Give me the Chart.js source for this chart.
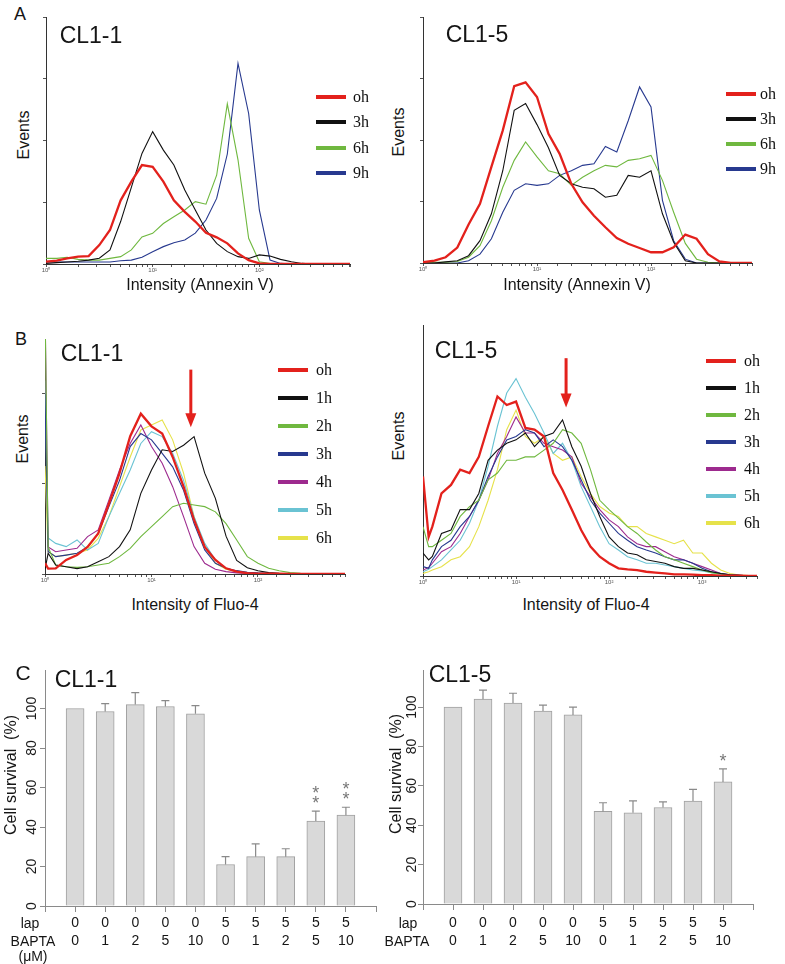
<!DOCTYPE html>
<html>
<head>
<meta charset="utf-8">
<title>Annexin V / Fluo-4 / cell survival</title>
<script src="https://cdn.jsdelivr.net/npm/chart.js@4.4.1/dist/chart.umd.min.js"></script>
<style>
  html, body { margin: 0; padding: 0; background: #fff; }
  #fig { position: relative; width: 785px; height: 964px; overflow: hidden;
         font-family: "Liberation Sans", Arial, sans-serif; color: #151515; }
  #fig canvas { position: absolute; z-index: 1; }
  .t { position: absolute; white-space: pre; line-height: 1; transform: translate(-50%, -50%); z-index: 2; }
  .v { transform: translate(-50%, -50%) rotate(-90deg); }
  .cl { font-size: 23px; }
  .ax { font-size: 16px; }
  .cat { font-size: 14px; }
  .sw { position: absolute; width: 30px; height: 4px; z-index: 2; }
  .leg { position: absolute; z-index: 2; line-height: 1; transform: translateY(-50%);
         font-family: "Liberation Serif", "Times New Roman", serif; font-size: 16px; color: #111; }
</style>
</head>
<body>
<div id="fig">
  <div class="t" style="left:20px;top:14px;font-size:18px">A</div>
  <div class="t cl" style="left:91px;top:35px">CL1-1</div>
  <div class="t cl" style="left:477px;top:34px">CL1-5</div>
  <div class="t ax v" style="left:24px;top:135px">Events</div>
  <div class="t ax v" style="left:399px;top:132px">Events</div>
  <div class="t ax" style="left:200px;top:285px">Intensity (Annexin V)</div>
  <div class="t ax" style="left:577px;top:285px">Intensity (Annexin V)</div>

  <div class="t" style="left:21px;top:339px;font-size:18px">B</div>
  <div class="t cl" style="left:92px;top:353px">CL1-1</div>
  <div class="t cl" style="left:466px;top:350px">CL1-5</div>
  <div class="t ax v" style="left:23px;top:439px">Events</div>
  <div class="t ax v" style="left:399px;top:436px">Events</div>
  <div class="t ax" style="left:195px;top:605px">Intensity of Fluo-4</div>
  <div class="t ax" style="left:586px;top:605px">Intensity of Fluo-4</div>

  <div class="t" style="left:23px;top:672px;font-size:21px">C</div>
  <div class="t cl" style="left:86px;top:679px">CL1-1</div>
  <div class="t cl" style="left:460px;top:674px">CL1-5</div>
  <div class="t ax v" style="left:11px;top:775px">Cell survival  (%)</div>
  <div class="t ax v" style="left:396px;top:774px">Cell survival  (%)</div>
  <div class="t cat" style="left:30px;top:923px">lap</div>
  <div class="t cat" style="left:33px;top:941px">BAPTA</div>
  <div class="t cat" style="left:33px;top:956px">(μM)</div>
  <div class="t cat" style="left:408px;top:923px">lap</div>
  <div class="t cat" style="left:407px;top:941px">BAPTA</div>
</div>

<script>
  // ---------- data ----------
  // A: Annexin V histograms, intensity bins (log spaced)
  const annexGrid = [1, 1.26, 1.58, 2, 2.51, 3.16, 3.98, 5.01, 6.31, 7.94, 10, 12.6, 15.8, 20, 25.1, 31.6, 39.8, 50.1, 63.1, 79.4, 100, 126, 158, 200, 251, 316, 398, 501, 631, 794];
  const annexL0h = [1.2, 1.7, 2.9, 3.8, 4.1, 9.8, 17.6, 33, 42.7, 51.3, 50.4, 42.7, 33, 27, 22, 16.2, 13.8, 10.7, 5.5, 2, 0.3, 0, 0, 0, 0, 0, 0, 0, 0, 0];
  const annexL3h = [0.3, 0.7, 1, 1.4, 2, 3, 7.3, 22, 39.7, 57.3, 68.6, 59, 51.3, 38.3, 28, 17.6, 10.7, 6.4, 3.8, 2.9, 4.7, 4.1, 2.4, 1.2, 0.3, 0, 0, 0, 0, 0];
  const annexL6h = [2.9, 2.9, 3.5, 2.4, 2, 2, 2.9, 3.8, 7.3, 14, 15.9, 21, 24.5, 28, 32.3, 31, 46, 83, 54, 13.3, 1.2, 0.2, 0, 0, 0, 0, 0, 0, 0, 0];
  const annexL9h = [1, 1, 1, 1, 1, 1, 1, 1.7, 2, 3.5, 6.4, 9, 11, 12.4, 16, 22.8, 34, 57, 104, 78, 28, 2, 0.3, 0, 0, 0, 0, 0, 0, 0];
  const annexR0h = [0.2, 0.6, 1.5, 4, 10, 15.4, 25, 34.5, 46, 47, 43.2, 33.6, 28.4, 20.6, 15.8, 12.3, 9.3, 6.5, 5, 3.9, 2.8, 2.8, 4.1, 7.4, 6.3, 2.3, 0.4, 0, 0, 0];
  const annexR3h = [0, 0, 0.3, 0.6, 1.9, 5.8, 12.8, 24, 39.7, 41.5, 36, 30, 22.8, 20.6, 19.7, 19.3, 17.1, 17.6, 22.8, 22.3, 24, 12.8, 5.4, 0.6, 0, 0, 0, 0, 0, 0];
  const annexR6h = [0.2, 0.2, 0.2, 0.4, 1.5, 4.5, 11, 19.7, 26.7, 31.5, 27.6, 24, 23.2, 20.2, 22.3, 24, 25.4, 25, 26.7, 27.1, 28, 21.5, 13.2, 5.1, 1, 0.2, 0, 0, 0, 0];
  const annexR9h = [0, 0, 0, 0, 0.6, 2.3, 6.3, 13.2, 18.9, 20.6, 20.2, 20.6, 22.8, 24, 25.4, 25.8, 30.3, 28.9, 37, 45.8, 40.6, 16.3, 5.8, 1, 0, 0, 0, 0, 0, 0];
  const annexLabels = ['oh', '3h', '6h', '9h'];

  // B: Fluo-4 histograms
  const fluoGridL = [1, 1.07, 1.26, 1.58, 2, 2.51, 3.16, 3.98, 5.01, 6.31, 7.94, 10, 12.6, 15.8, 20, 25.1, 31.6, 39.8, 50.1, 63.1, 79.4, 100, 126, 158, 200, 251, 316, 398, 501, 631, 794];
  const fluoL0h = [12, 6, 6.3, 15.6, 21, 30, 45, 78, 112, 153, 178, 164, 156, 130, 97, 60, 30, 15.6, 6.3, 2.6, 1, 0.5, 0.4, 0.3, 0.2, 0.2, 0, 0, 0, 0, 0];
  const fluoL1h = [5, 23, 10, 8, 6, 8, 13.7, 19.3, 30.4, 49, 89.6, 115.6, 138, 136, 143, 152.6, 112, 84, 42, 15, 7, 3.7, 1.5, 0.7, 0.3, 0, 0, 0, 0, 0, 0];
  const fluoL2h = [300, 30, 10, 8.1, 7.4, 8.1, 10, 11.9, 19.3, 28.5, 41.5, 52.6, 63.7, 74.8, 78.5, 76.7, 74.8, 69, 56, 37.8, 19.3, 11.9, 6.3, 3.7, 1.5, 0.7, 0.3, 0, 0, 0, 0];
  const fluoL3h = [200, 25, 19.3, 21, 23, 30, 45, 74.8, 104, 141.5, 156, 149, 134, 119, 93, 56, 26.7, 11.9, 6.3, 3.7, 2, 1.2, 0.7, 0.4, 0.2, 0, 0, 0, 0, 0, 0];
  const fluoL4h = [300, 30, 24.8, 26.7, 28.5, 41.5, 49, 82, 115.6, 145, 165.6, 141.5, 123, 97, 63.7, 30.4, 11.9, 5.2, 2.6, 1.2, 0.6, 0.3, 0, 0, 0, 0, 0, 0, 0, 0, 0];
  const fluoL5h = [215, 40, 34, 30.4, 37.8, 26.7, 34, 63.7, 89.6, 115.6, 145, 158, 152.6, 134, 104, 63.7, 34, 15.6, 6.3, 3, 1.5, 0.7, 0.3, 0, 0, 0, 0, 0, 0, 0, 0];
  const fluoL6h = [120, 25, 19.3, 21, 23, 26.7, 39.6, 63.7, 97, 130, 160, 165.6, 171, 149, 112, 63.7, 30.4, 11.9, 5.2, 2.5, 1.2, 0.5, 0, 0, 0, 0, 0, 0, 0, 0, 0];

  const fluoGridR = [1, 1.15, 1.26, 1.58, 2, 2.51, 3.16, 3.98, 5.01, 6.31, 7.94, 10, 12.6, 15.8, 20, 25.1, 31.6, 39.8, 50.1, 63.1, 79.4, 100, 126, 158, 200, 251, 316, 398, 501, 631, 794, 1000, 1259, 1585, 1995, 2512, 3162, 3981];
  const fluoR0h = [117, 46, 58, 97, 107, 125, 121, 140, 176, 211, 201, 205, 174, 172, 164, 121, 101, 78, 54, 34.5, 22.7, 15, 9, 7.8, 7, 5, 4, 3, 2, 2, 1.5, 1, 1, 0.5, 0.5, 0.3, 0.2, 0];
  const fluoR1h = [27, 19, 23, 50, 54, 78, 78, 97, 136, 148, 156, 160, 168, 152, 164, 168, 183.5, 152, 129, 97, 70, 46, 34.5, 27, 25, 19, 17, 15, 11, 9, 9, 7, 5, 3, 1.5, 0.8, 0.3, 0];
  const fluoR2h = [58, 34.5, 34.5, 42, 50, 70, 81.6, 89, 113, 121, 136, 136, 140, 140, 148, 156, 172, 168, 156, 125, 89, 78, 68, 58, 50, 40, 30.6, 22.7, 19, 15, 11, 7, 4, 2.4, 1.2, 0.5, 0.2, 0];
  const fluoR3h = [11, 9, 19, 34.5, 42, 58, 70, 89, 117, 140, 160, 164, 172, 168, 152, 160, 152, 136, 113, 89, 74, 62, 50, 42, 34.5, 30.6, 27, 22.7, 19, 19, 15, 9, 5, 3, 1.5, 0.8, 0.3, 0];
  const fluoR4h = [7, 10, 15, 28.6, 34.5, 50, 70, 89, 113, 144, 164, 187, 168, 168, 156, 152, 148, 140, 109, 93, 78, 66, 58, 46, 38, 34.5, 34.5, 28.6, 22.7, 19, 15, 11, 7, 3, 1.5, 0.8, 0.3, 0];
  const fluoR5h = [5, 8, 11, 19, 30.6, 42, 62, 89, 129, 176, 215, 232, 210, 191, 168, 144, 156, 136, 105, 81.6, 58, 38, 30.6, 22.7, 19, 15, 15, 13, 11, 9, 7, 6, 4, 2, 1.2, 0.5, 0.2, 0];
  const fluoR6h = [3, 5, 7, 11, 19, 22.7, 34.5, 58, 89, 125, 172, 195, 164, 156, 164, 144, 136, 140, 117, 97, 81.6, 74, 70, 58, 58, 50, 46, 42, 38, 42, 27, 27, 15, 7, 3, 1.2, 0.4, 0];
  const fluoLabels = ['oh', '1h', '2h', '3h', '4h', '5h', '6h'];

  // arrows in B (intensity, events from -> to)
  const arrowL = { x: 23.4, from: 227, to: 163 };
  const arrowR = { x: 34.5, from: 256, to: 198 };

  // C: cell survival
  const lap = [0, 0, 0, 0, 0, 5, 5, 5, 5, 5];
  const bapta = [0, 1, 2, 5, 10, 0, 1, 2, 5, 10];
  const survCL11 = [100, 98.5, 102, 101, 97.3, 21, 25, 25, 43, 46];
  const errCL11 = [0, 4, 6, 3, 4.2, 4, 6.5, 4, 5, 4];
  const starsCL11 = [0, 0, 0, 0, 0, 0, 0, 0, 2, 2];
  const survCL15 = [100, 104, 102, 98, 96, 47, 46.3, 49, 52.3, 62];
  const errCL15 = [0, 4.6, 5, 3, 4, 4.4, 6.1, 2.8, 5.9, 6.6];
  const starsCL15 = [0, 0, 0, 0, 0, 0, 0, 0, 0, 1];

  const lineColors = ['#e3211c', '#111111', '#6fb83f', '#27398f', '#9d2a8e', '#6ac3d3', '#e6e24a'];
  const annexColors = ['#e3211c', '#111111', '#6fb83f', '#27398f'];

  // ---------- helpers ----------
  const fig = document.getElementById('fig');
  const SUP = { 0: '\u2070', 1: '\u00b9', 2: '\u00b2', 3: '\u00b3' };

  function decadeTick(v) {
    const e = Math.log10(v);
    return Math.abs(e - Math.round(e)) < 1e-6 ? '10' + SUP[Math.round(e)] : '';
  }

  function mountCanvas(box, yW, xH, padT, padR) {
    const c = document.createElement('canvas');
    const w = box.r - box.l + yW + padR, h = box.b - box.t + xH + padT;
    c.width = w; c.height = h;
    c.style.left = (box.l - yW) + 'px';
    c.style.top = (box.t - padT) + 'px';
    c.style.width = w + 'px'; c.style.height = h + 'px';
    fig.appendChild(c);
    return c;
  }

  function legend(swX, txX, y0, step, names, colors) {
    names.forEach((n, i) => {
      const y = y0 + i * step;
      const sw = document.createElement('div');
      sw.className = 'sw';
      sw.style.left = swX + 'px'; sw.style.top = (y - 2) + 'px'; sw.style.background = colors[i];
      const tx = document.createElement('div');
      tx.className = 'leg';
      tx.textContent = n;
      tx.style.left = txX + 'px'; tx.style.top = y + 'px';
      fig.append(sw, tx);
    });
  }

  function arrowPlugin(a) {
    return {
      id: 'arrow',
      afterDatasetsDraw(chart) {
        const { ctx, scales: { x, y } } = chart;
        const px = x.getPixelForValue(a.x);
        const y0 = y.getPixelForValue(a.from), y1 = y.getPixelForValue(a.to);
        ctx.save();
        ctx.strokeStyle = ctx.fillStyle = '#e3211c';
        ctx.lineWidth = 3;
        ctx.beginPath(); ctx.moveTo(px, y0); ctx.lineTo(px, y1 - 12); ctx.stroke();
        ctx.beginPath();
        ctx.moveTo(px - 5.5, y1 - 14); ctx.lineTo(px + 5.5, y1 - 14); ctx.lineTo(px, y1);
        ctx.closePath(); ctx.fill();
        ctx.restore();
      }
    };
  }

  function histChart(box, grid, series, colors, xMax, yMax, yStep, plugins) {
    const yW = 10, xH = 14, padT = 4, padR = 6;
    const c = mountCanvas(box, yW, xH, padT, padR);
    new Chart(c, {
      type: 'line',
      data: {
        datasets: series.map((ys, i) => ({
          data: grid.map((x, j) => ({ x: x, y: ys[j] })),
          borderColor: colors[i],
          borderWidth: i === 0 ? 2.3 : 1.1,
          pointRadius: 0, tension: 0, fill: false
        }))
      },
      options: {
        responsive: false, animation: false, devicePixelRatio: 1, events: [],
        layout: { padding: { top: padT, right: padR, left: 0, bottom: 0 } },
        plugins: { legend: { display: false }, tooltip: { enabled: false } },
        scales: {
          x: {
            type: 'logarithmic', min: 1, max: xMax,
            border: { color: '#333', width: 1 },
            grid: { drawOnChartArea: false, tickLength: 3, color: '#555' },
            ticks: { autoSkip: false, maxRotation: 0, minRotation: 0, padding: 0, color: '#555',
                     font: { size: 6, family: 'Liberation Sans' }, callback: v => decadeTick(v) },
            afterFit: s => { s.height = xH; }
          },
          y: {
            min: 0, max: yMax,
            ticks: { display: false, stepSize: yStep },
            afterBuildTicks: s => { s.ticks = s.ticks.filter(t => t.value % yStep === 0); },
            border: { color: '#333', width: 1 },
            grid: { drawOnChartArea: false, tickLength: 3, color: '#555' },
            afterFit: s => { s.width = yW; }
          }
        }
      },
      plugins: plugins || []
    });
  }

  function errorPlugin(vals, errs, stars, tickOff) {
    return {
      id: 'errbars',
      afterDatasetsDraw(chart) {
        const { ctx, scales: { x, y } } = chart;
        ctx.save();
        ctx.strokeStyle = '#8a8a8a';
        ctx.lineWidth = 1.2;
        vals.forEach((v, i) => {
          const px = x.getPixelForValue(i + 1);
          const base = y.getPixelForValue(v);
          const top = y.getPixelForValue(v + errs[i]);
          if (errs[i] > 0) {
            ctx.beginPath();
            ctx.moveTo(px, base); ctx.lineTo(px, top);
            ctx.moveTo(px - 4, top); ctx.lineTo(px + 4, top);
            ctx.stroke();
          }
          ctx.fillStyle = '#777';
          ctx.font = '18px "Liberation Sans"';
          ctx.textAlign = 'center';
          ctx.textBaseline = 'middle';
          for (let k = 0; k < stars[i]; k++) {
            ctx.fillText('*', px, top - 11 - 10 * k + 4);
          }
        });
        ctx.restore();
      },
      afterDraw(chart) {
        // rotated y tick labels
        const { ctx, scales: { y } } = chart;
        ctx.save();
        ctx.fillStyle = '#1a1a1a';
        ctx.font = '14px "Liberation Sans Narrow", "Liberation Sans"';
        ctx.textAlign = 'center';
        ctx.textBaseline = 'middle';
        y.ticks.forEach(t => {
          ctx.save();
          ctx.translate(y.right - tickOff, y.getPixelForValue(t.value));
          ctx.rotate(-Math.PI / 2);
          ctx.fillText(String(t.value), 0, 0);
          ctx.restore();
        });
        ctx.restore();
      }
    };
  }

  function barChart(box, vals, errs, stars, yMax, labPad, tickOff) {
    const yW = 30, xH = 56, padT = 4, padR = 8;
    const c = mountCanvas(box, yW, xH, padT, padR);
    new Chart(c, {
      type: 'bar',
      data: {
        datasets: [{
          data: vals.map((v, i) => ({ x: i + 1, y: v })),
          backgroundColor: '#d9d9d9', borderColor: '#a0a0a0',
          borderWidth: 1, borderSkipped: 'bottom', barThickness: 18
        }]
      },
      options: {
        responsive: false, animation: false, devicePixelRatio: 1, events: [],
        layout: { padding: { top: padT, right: padR, left: 0, bottom: 0 } },
        plugins: { legend: { display: false }, tooltip: { enabled: false } },
        scales: {
          x: {
            type: 'linear', min: 0, max: 11, offset: false,
            border: { color: '#8a8a8a', width: 1 },
            grid: { drawOnChartArea: false, offset: false, tickLength: 6, color: '#8a8a8a' },
            ticks: { stepSize: 1, autoSkip: false, maxRotation: 0, minRotation: 0, padding: labPad, color: '#151515',
                     font: { size: 14, family: 'Liberation Sans', lineHeight: 1.3 },
                     callback: v => (v >= 1 && v <= 10) ? [String(lap[v - 1]), String(bapta[v - 1])] : '' },
            afterFit: s => { s.height = xH; }
          },
          y: {
            min: 0, max: yMax,
            ticks: { display: false, stepSize: 20 },
            afterBuildTicks: s => { s.ticks = s.ticks.filter(t => t.value <= 100 && t.value % 20 === 0); },
            border: { color: '#8a8a8a', width: 1 },
            grid: { drawOnChartArea: false, tickLength: 5, color: '#8a8a8a' },
            afterFit: s => { s.width = yW; }
          }
        }
      },
      plugins: [errorPlugin(vals, errs, stars, tickOff)]
    });
  }

  // ---------- panels ----------
  histChart({ l: 46, t: 17, r: 350, b: 264 }, annexGrid,
    [annexL0h, annexL3h, annexL6h, annexL9h], annexColors, 708, 128, 32);
  histChart({ l: 423, t: 17, r: 752, b: 263 }, annexGrid,
    [annexR0h, annexR3h, annexR6h, annexR9h], annexColors, 769, 64, 16);
  histChart({ l: 45, t: 339, r: 345, b: 574 }, fluoGridL,
    [fluoL0h, fluoL1h, fluoL2h, fluoL3h, fluoL4h, fluoL5h, fluoL6h], lineColors, 656, 261, 100,
    [arrowPlugin(arrowL)]);
  histChart({ l: 423, t: 325, r: 757, b: 576 }, fluoGridR,
    [fluoR0h, fluoR1h, fluoR2h, fluoR3h, fluoR4h, fluoR5h, fluoR6h], lineColors, 3890, 295, 100,
    [arrowPlugin(arrowR)]);

  barChart({ l: 45, t: 670, r: 376, b: 906 }, survCL11, errCL11, starsCL11, 119.5, 2, 13);
  barChart({ l: 423, t: 670, r: 753, b: 904 }, survCL15, errCL15, starsCL15, 118.8, 4, 11);

  legend(316, 353, 97, 25.3, annexLabels, annexColors);
  legend(726, 760, 94, 25, annexLabels, annexColors);
  legend(278, 316, 370, 28, fluoLabels, lineColors);
  legend(706, 744, 361, 27, fluoLabels, lineColors);
</script>
</body>
</html>
